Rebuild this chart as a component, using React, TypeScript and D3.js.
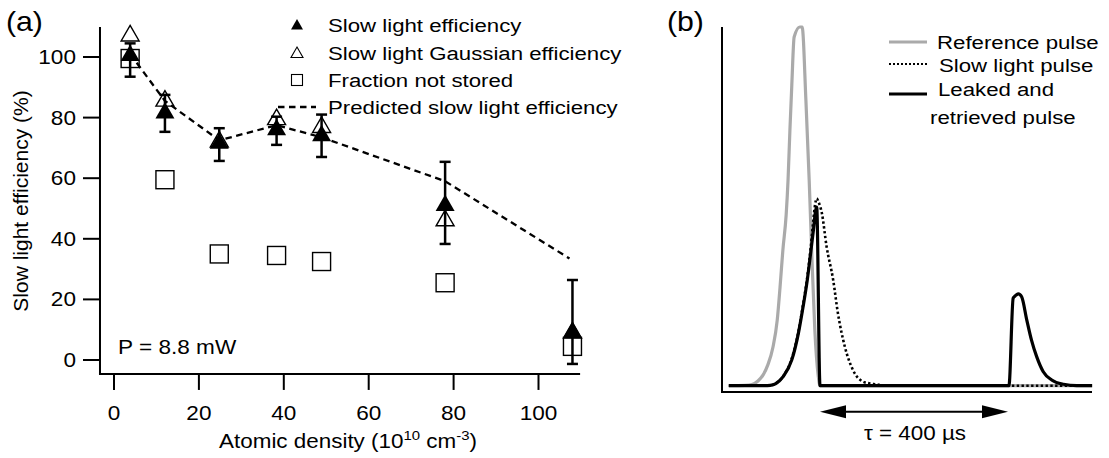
import React from "react";
import * as d3 from "d3";

// ---------- Panel (a) data ----------
const densities = [3.8, 12, 24.8, 38.3, 48.9, 78, 108];
const slowEff = [100.5, 81.5, 71.5, 76, 74, 51, 9];
const errLow = [93.5, 75.3, 65.7, 71, 67, 38.3, -1.3];
const errHigh = [104.5, 87.5, 76.5, 80.3, 81, 65.4, 26.4];
const gaussEff = [107, 85.5, 72, 79.4, 76.8, 46, 9];
const notStored = [99.5, 59.5, 35, 34.5, 32.5, 25.5, 4.5];
const predictedX = [3.8, 12, 24.8, 38.3, 48.9, 78, 107.3];
const predictedY = [101, 85.5, 72.5, 77.5, 73.5, 59, 33.5];
const xTicksA = [0, 20, 40, 60, 80, 100];
const yTicksA = [0, 20, 40, 60, 80, 100];
const legendA = [
  "Slow light efficiency",
  "Slow light Gaussian efficiency",
  "Fraction not stored",
  "Predicted slow light efficiency",
];

// ---------- Panel (b) data (time in µs, intensity normalised) ----------
const refT = [-194, -160, -145, -132, -121, -111, -100, -91, -85, -79, -72, -68, -64, -60, -55, -43, -38, -30, -23, -17, -11, -4, 0, 579];
const refV = [0, 0.001, 0.003, 0.013, 0.03, 0.058, 0.108, 0.183, 0.275, 0.378, 0.476, 0.573, 0.713, 0.838, 0.972, 1.0, 1.0, 0.796, 0.573, 0.35, 0.155, 0.03, 0, 0];
const slowT = [-194, -118, -106, -94, -78, -60, -46, -36, -27, -20, -15, -11, -7, -3, 4, 14, 28, 38, 53, 70, 92, 113, 149, 579];
const slowV = [0, 0, 0.001, 0.006, 0.027, 0.076, 0.15, 0.226, 0.303, 0.382, 0.45, 0.5, 0.522, 0.512, 0.481, 0.388, 0.295, 0.203, 0.108, 0.044, 0.011, 0.005, 0, 0];
const leakT = [-194, -118, -106, -94, -78, -60, -46, -36, -27, -20, -14, -9, -7, 0, 402, 411, 415, 422, 429, 440, 450, 461, 475, 493, 518, 546, 579];
const leakV = [0, 0, 0.001, 0.006, 0.026, 0.072, 0.146, 0.22, 0.295, 0.369, 0.434, 0.49, 0.498, 0, 0, 0.244, 0.25, 0.256, 0.248, 0.183, 0.127, 0.081, 0.039, 0.016, 0.004, 0, 0];
const storageTime = [0, 400];
const legendB = ["Reference pulse", "Slow light pulse", "Leaked and", "retrieved pulse"];

const FONT = "'Liberation Sans', Arial, Helvetica, sans-serif";
const SX = 1.13;

function T(props: any) {
  const { x, y, size = 20, anchor = "start", sx = SX, children, ...rest } = props;
  return (
    <text
      transform={`translate(${x},${y}) scale(${sx},1)`}
      fontSize={size}
      fontFamily={FONT}
      textAnchor={anchor}
      fill="#000"
      {...rest}
    >
      {children}
    </text>
  );
}

function tri(cx: number, cy: number, w: number) {
  const h = w * 0.866;
  return `M${cx},${cy - (2 * h) / 3}L${cx + w / 2},${cy + h / 3}L${cx - w / 2},${cy + h / 3}Z`;
}

export default function App() {
  // scales panel a
  const xA = d3.scaleLinear().domain([0, 100]).range([114, 538.5]);
  const yA = d3.scaleLinear().domain([0, 100]).range([360, 57]);
  const axLeft = xA(-3.3);
  const axRight = xA(109.8);
  const axTop = yA(109.9);
  const axBottom = yA(-4.6);

  const predLine = d3
    .line<number>()
    .x((_, i) => xA(predictedX[i]))
    .y((d) => yA(d))(predictedY) as string;

  // scales panel b
  const xB = d3.scaleLinear().domain([0, 400]).range([820, 1008]);
  const yB = d3.scaleLinear().domain([0, 1]).range([385.7, 27]);
  const lineB = (ts: number[], vs: number[]) =>
    d3
      .line<number>()
      .x((_, i) => xB(ts[i]))
      .y((v) => yB(v))
      .curve(d3.curveMonotoneX)(vs) as string;

  const arrowY = 411.7;
  const a0 = xB(storageTime[0]);
  const a1 = xB(storageTime[1]);
  const ah = 26;
  const aw = 6.5;

  const legRowsA = [25, 53, 80, 107];
  const legRowsB = [42, 65, 89.5, 117.5];
  const sampleB = [42, 64, 94];

  return (
    <svg
      width={1109}
      height={458}
      style={{ position: "absolute", left: 0, top: 0, background: "#fff" }}
    >
      <rect width={1109} height={458} fill="#fff" />
      {/* ================= Panel (a) ================= */}
      <T x={6} y={31} size={28} sx={1.08}>(a)</T>
      {/* axes */}
      <line x1={axLeft} x2={axLeft} y1={axTop} y2={axBottom} stroke="#000" strokeWidth={2} />
      <line x1={axLeft - 1} x2={axRight} y1={axBottom} y2={axBottom} stroke="#000" strokeWidth={2} />
      {yTicksA.map((t) => (
        <g key={"yt" + t}>
          <line x1={83} x2={axLeft} y1={yA(t)} y2={yA(t)} stroke="#000" strokeWidth={2} />
          <T x={76} y={yA(t) + 7} size={20} anchor="end">{t}</T>
        </g>
      ))}
      {xTicksA.map((t) => (
        <g key={"xt" + t}>
          <line x1={xA(t)} x2={xA(t)} y1={axBottom} y2={axBottom + 16} stroke="#000" strokeWidth={2} />
          <T x={xA(t)} y={420} size={20} anchor="middle">{t}</T>
        </g>
      ))}
      <T x={348} y={448} size={19.5} anchor="middle" sx={1.15}>
        Atomic density (10
        <tspan dy={-8} fontSize={13}>10</tspan>
        <tspan dy={8}> cm</tspan>
        <tspan dy={-8} fontSize={13}>-3</tspan>
        <tspan dy={8}>)</tspan>
      </T>
      <text
        transform={`translate(28,201) rotate(-90)`}
        fontSize={21}
        fontFamily={FONT}
        textAnchor="middle"
      >
        Slow light efficiency (%)
      </text>
      <T x={118} y={354} size={20}>P = 8.8 mW</T>

      {/* predicted line */}
      <path d={predLine} fill="none" stroke="#000" strokeWidth={2.3} strokeDasharray="6.5,4.5" />
      {/* not stored squares */}
      {notStored.map((v, i) => (
        <rect
          key={"sq" + i}
          x={xA(densities[i]) - 9}
          y={yA(v) - 9}
          width={18}
          height={18}
          fill="none"
          stroke="#000"
          strokeWidth={1.4}
        />
      ))}
      {/* gaussian open triangles */}
      {gaussEff.map((v, i) => (
        <path key={"ot" + i} d={tri(xA(densities[i]), yA(v), 18)} fill="none" stroke="#000" strokeWidth={1.4} />
      ))}
      {/* error bars */}
      {slowEff.map((_, i) => {
        const cx = xA(densities[i]);
        return (
          <g key={"eb" + i} stroke="#000" strokeWidth={2.5}>
            <line x1={cx} x2={cx} y1={yA(errLow[i])} y2={yA(errHigh[i])} />
            <line x1={cx - 5.5} x2={cx + 5.5} y1={yA(errLow[i])} y2={yA(errLow[i])} />
            <line x1={cx - 5.5} x2={cx + 5.5} y1={yA(errHigh[i])} y2={yA(errHigh[i])} />
          </g>
        );
      })}
      {/* filled triangles */}
      {slowEff.map((v, i) => (
        <path key={"ft" + i} d={tri(xA(densities[i]), yA(v), 19)} fill="#000" />
      ))}

      {/* legend a */}
      <path d={tri(297, legRowsA[0] + 1, 12)} fill="#000" />
      <path d={tri(297, legRowsA[1] + 1, 12)} fill="none" stroke="#000" strokeWidth={1.1} />
      <rect x={291.5} y={legRowsA[2] - 5.5} width={11} height={11} fill="none" stroke="#000" strokeWidth={1.1} />
      <line x1={278} x2={316} y1={legRowsA[3]} y2={legRowsA[3]} stroke="#000" strokeWidth={2.3} strokeDasharray="6.5,4.5" />
      {legendA.map((s, i) => (
        <T key={"la" + i} x={328} y={legRowsA[i] + 6.8} size={19} sx={1.17}>{s}</T>
      ))}

      {/* ================= Panel (b) ================= */}
      <T x={667} y={31} size={28} sx={1.08}>(b)</T>
      <line x1={722} x2={722} y1={27} y2={392} stroke="#000" strokeWidth={2} />
      <line x1={721} x2={1092} y1={392} y2={392} stroke="#000" strokeWidth={2} />

      <path d={lineB(refT, refV)} fill="none" stroke="#aaaaaa" strokeWidth={3.2} strokeLinejoin="round" />
      <path d={lineB(slowT, slowV)} fill="none" stroke="#000" strokeWidth={2.6} strokeDasharray="2.4,2.4" />
      <path d={lineB(leakT, leakV)} fill="none" stroke="#000" strokeWidth={3.2} strokeLinejoin="round" />

      {/* storage time arrow */}
      <line x1={a0 + ah - 2} x2={a1 - ah + 2} y1={arrowY} y2={arrowY} stroke="#000" strokeWidth={2} />
      <path d={`M${a0},${arrowY}L${a0 + ah},${arrowY - aw}L${a0 + ah},${arrowY + aw}Z`} fill="#000" />
      <path d={`M${a1},${arrowY}L${a1 - ah},${arrowY - aw}L${a1 - ah},${arrowY + aw}Z`} fill="#000" />
      <T x={(a0 + a1) / 2 + 1} y={440} size={19.5} anchor="middle" sx={1.15}>τ = 400 µs</T>

      {/* legend b */}
      <line x1={889} x2={927} y1={sampleB[0]} y2={sampleB[0]} stroke="#aaaaaa" strokeWidth={3.2} />
      <line x1={889} x2={927} y1={sampleB[1]} y2={sampleB[1]} stroke="#000" strokeWidth={2} strokeDasharray="2,2" />
      <line x1={889} x2={927} y1={sampleB[2]} y2={sampleB[2]} stroke="#000" strokeWidth={3.2} />
      <T x={937} y={legRowsB[0] + 6.8} size={19} sx={1.17}>{legendB[0]}</T>
      <T x={939} y={legRowsB[1] + 6.8} size={19} sx={1.17}>{legendB[1]}</T>
      <T x={938} y={legRowsB[2] + 6.8} size={19} sx={1.17}>{legendB[2]}</T>
      <T x={930} y={legRowsB[3] + 6.8} size={19} sx={1.17}>{legendB[3]}</T>
    </svg>
  );
}
